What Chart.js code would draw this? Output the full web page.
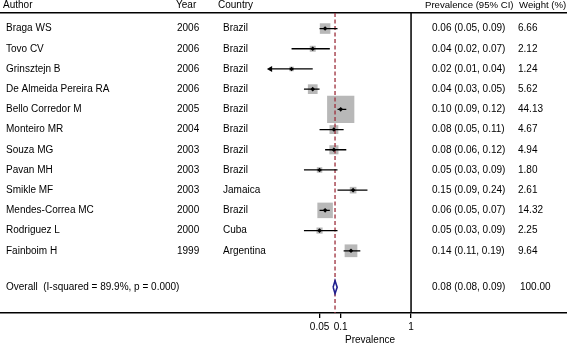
<!DOCTYPE html>
<html>
<head>
<meta charset="utf-8">
<script src="https://cdn.jsdelivr.net/npm/chart.js@4.4.1/dist/chart.umd.min.js"></script>
<style>
  body { margin: 0; background: #fff; }
  #wrap { width: 567px; height: 345px; }
</style>
</head>
<body>
<div id="wrap"><canvas id="forest"></canvas></div>
<script>
// study data
const authors = ["Braga WS", "Tovo CV", "Grinsztejn B", "De Almeida Pereira RA", "Bello Corredor M",
  "Monteiro MR", "Souza MG", "Pavan MH", "Smikle MF", "Mendes-Correa MC", "Rodriguez L", "Fainboim H"];
const years = [2006, 2006, 2006, 2006, 2005, 2004, 2003, 2003, 2003, 2000, 2000, 1999];
const countries = ["Brazil", "Brazil", "Brazil", "Brazil", "Brazil", "Brazil", "Brazil", "Brazil",
  "Jamaica", "Brazil", "Cuba", "Argentina"];
const est = [0.06, 0.04, 0.02, 0.04, 0.10, 0.08, 0.08, 0.05, 0.15, 0.06, 0.05, 0.14];
const lo = [0.05, 0.02, 0.01, 0.03, 0.09, 0.05, 0.06, 0.03, 0.09, 0.05, 0.03, 0.11];
const hi = [0.09, 0.07, 0.04, 0.05, 0.12, 0.11, 0.12, 0.09, 0.24, 0.07, 0.09, 0.19];
const weights = [6.66, 2.12, 1.24, 5.62, 44.13, 4.67, 4.94, 1.80, 2.61, 14.32, 2.25, 9.64];

// pooled estimate
const overallLabel = "Overall  (I-squared = 89.9%, p = 0.000)";
const overallEst = 0.083;
const overallLo = 0.078;
const overallHi = 0.089;
const overallWeight = "100.00";

const tickValues = [0.05, 0.1, 1];
const forestMin = 0.01;   // left end of the plotted range (arrows below this)
const nullValue = 1;

// row positions (1 = first study)
const rows = authors.map((a, i) => i + 1);
const overallRow = 13.8;

// scale ranges (log x spans the whole canvas, 1 sits at the table divider)
const xMin = 1.43e-6, xMax = 165;
const yMin = 0.23, yMax = 15.08;

const FAMILY = '"Liberation Sans", Arial, sans-serif';
const FONT = "10px " + FAMILY;
const HEAD_FONT = "9.6px " + FAMILY;
const boxSide = w => 4.1 * Math.sqrt(w);

const ciLines = [];
rows.forEach((r, i) => {
  ciLines.push({ x: Math.max(lo[i], forestMin), y: r }, { x: hi[i], y: r }, { x: null, y: null });
});
const arrows = rows.filter((r, i) => lo[i] <= forestMin).map(r => ({ x: forestMin, y: r }));

const dh = 0.32;
const diamond = [
  { x: overallLo, y: overallRow }, { x: overallEst, y: overallRow - dh },
  { x: overallHi, y: overallRow }, { x: overallEst, y: overallRow + dh },
  { x: overallLo, y: overallRow }
];

const textPlugin = {
  id: "tableText",
  afterDatasetsDraw(chart) {
    const ctx = chart.ctx;
    const y = chart.scales.y;
    ctx.save();
    ctx.fillStyle = "#000";
    ctx.textBaseline = "middle";
    ctx.textAlign = "left";
    // header
    ctx.font = FONT;
    ctx.fillText("Author", 3, 5);
    ctx.fillText("Year", 176, 5);
    ctx.fillText("Country", 218, 5);
    ctx.font = HEAD_FONT;
    ctx.fillText("Prevalence (95% CI)", 425, 5);
    ctx.fillText("Weight (%)", 519, 5);
    ctx.font = FONT;
    rows.forEach((r, i) => {
      const py = y.getPixelForValue(r);
      ctx.fillText(authors[i], 6, py);
      ctx.fillText(String(years[i]), 177, py);
      ctx.fillText(countries[i], 223, py);
      ctx.fillText(est[i].toFixed(2) + " (" + lo[i].toFixed(2) + ", " + hi[i].toFixed(2) + ")", 432, py);
      ctx.fillText(weights[i].toFixed(2), 518, py);
    });
    const po = y.getPixelForValue(overallRow);
    ctx.fillText(overallLabel, 6, po);
    ctx.fillText(overallEst.toFixed(2) + " (" + overallLo.toFixed(2) + ", " + overallHi.toFixed(2) + ")", 432, po);
    ctx.fillText(overallWeight, 520, po);
    // axis title
    ctx.textAlign = "center";
    ctx.fillText("Prevalence", 370, 340);
    ctx.restore();
  }
};

new Chart(document.getElementById("forest"), {
  type: "scatter",
  data: {
    datasets: [
      {
        label: "overall",
        data: diamond,
        showLine: true,
        borderColor: "#1f1f8f",
        borderWidth: 1.6,
        backgroundColor: "#fff",
        fill: "shape",
        pointRadius: 0,
        order: 0
      },
      {
        label: "estimate",
        data: rows.map((r, i) => ({ x: est[i], y: r })),
        pointStyle: "rectRot",
        pointRadius: 2.3,
        backgroundColor: "#000",
        borderColor: "#000",
        borderWidth: 0,
        order: 1
      },
      {
        label: "arrow",
        data: arrows,
        pointStyle: "triangle",
        rotation: 270,
        pointRadius: 3.5,
        backgroundColor: "#000",
        borderColor: "#000",
        borderWidth: 0,
        order: 2
      },
      {
        label: "ci",
        data: ciLines,
        showLine: true,
        spanGaps: false,
        borderColor: "#000",
        borderWidth: 1.3,
        pointRadius: 0,
        order: 3
      },
      {
        label: "pooled line",
        data: [{ x: overallEst, y: yMin }, { x: overallEst, y: yMax }],
        showLine: true,
        borderColor: "#9c2f3c",
        borderWidth: 1.3,
        borderDash: [4, 2.5],
        pointRadius: 0,
        order: 4
      },
      {
        label: "weight box",
        data: rows.map((r, i) => ({ x: est[i], y: r })),
        pointStyle: "rect",
        pointRadius: ctx => boxSide(weights[ctx.dataIndex]) / Math.SQRT2,
        backgroundColor: "#b8b8b8",
        borderWidth: 0,
        order: 5
      },
      {
        label: "null line",
        data: [{ x: nullValue, y: yMin }, { x: nullValue, y: yMax }],
        showLine: true,
        borderColor: "#000",
        borderWidth: 1.5,
        pointRadius: 0,
        order: 6
      }
    ]
  },
  options: {
    responsive: true,
    maintainAspectRatio: false,
    animation: false,
    layout: { padding: 0, autoPadding: false },
    plugins: { legend: { display: false }, tooltip: { enabled: false } },
    scales: {
      x: {
        type: "logarithmic",
        position: "bottom",
        min: xMin,
        max: xMax,
        afterBuildTicks: s => { s.ticks = tickValues.map(v => ({ value: v })); },
        afterFit: s => { s.height = 32; },
        ticks: {
          autoSkip: false,
          maxRotation: 0,
          padding: 3,
          color: "#000",
          font: { family: FAMILY, size: 10 },
          callback: v => String(v)
        },
        grid: { drawOnChartArea: false, tickLength: 5, color: "#000", lineWidth: 1.3 },
        border: { color: "#000", width: 1.5 }
      },
      x2: {
        type: "logarithmic",
        position: "top",
        min: xMin,
        max: xMax,
        afterFit: s => { s.height = 13; },
        ticks: { display: false },
        grid: { display: false },
        border: { color: "#000", width: 1.5 }
      },
      y: {
        type: "linear",
        reverse: true,
        min: yMin,
        max: yMax,
        display: false
      }
    }
  },
  plugins: [textPlugin]
});
</script>
</body>
</html>
